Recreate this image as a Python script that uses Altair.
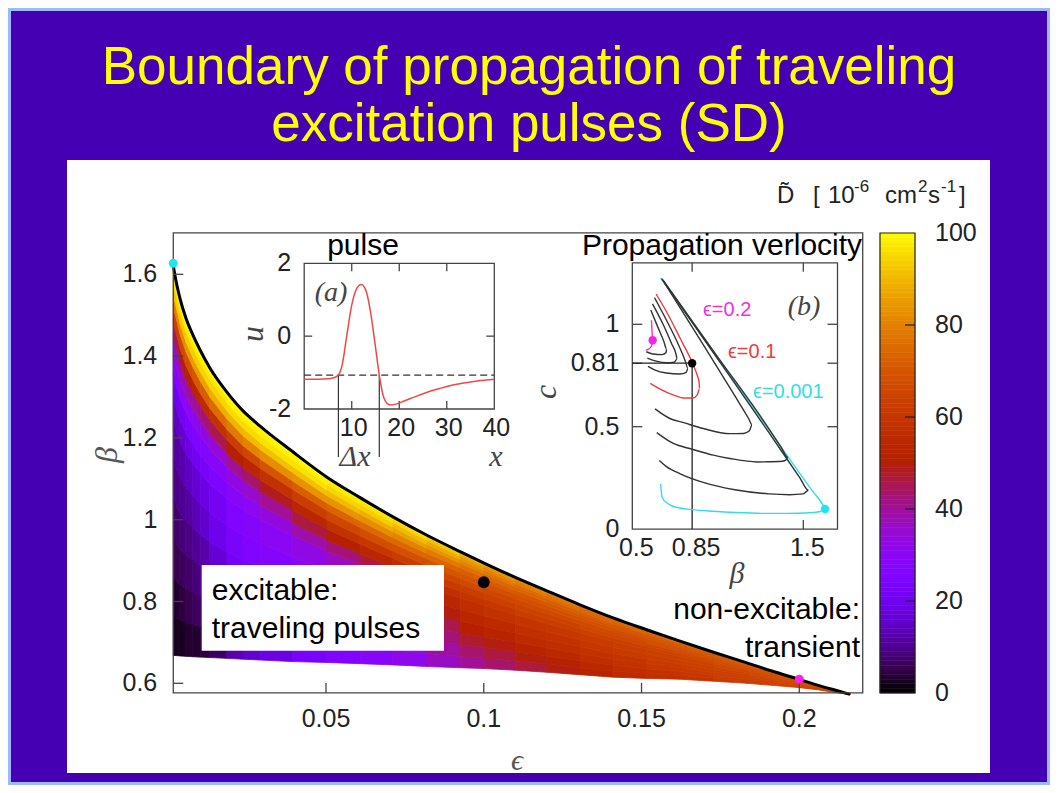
import altair as alt
import pandas as pd

W, H = 1042, 777
BG = '#4500B4'
SANS = 'Liberation Sans'
SERIF = 'Liberation Serif'
INK = '#222222'
FRAME = '#444444'

title_lines = ['Boundary of propagation of traveling', 'excitation pulses (SD)']

# ---------------- main map: boundary of propagation ----------------
eps_edges = [0.0016, 0.0021, 0.0037, 0.0056, 0.0078, 0.0101, 0.0132, 0.0186, 0.0237, 0.0291,
             0.0395, 0.0503, 0.0608, 0.0712, 0.0820, 0.0925, 0.1001, 0.1100, 0.1200, 0.1305,
             0.1410, 0.1516, 0.1622, 0.1728, 0.1834, 0.1913, 0.1993, 0.2060, 0.2129, 0.2161]
beta_upper = [1.623, 1.598, 1.542, 1.493, 1.452, 1.415, 1.371, 1.312, 1.266, 1.229,
              1.166, 1.104, 1.054, 1.007, 0.962, 0.922, 0.894, 0.859, 0.826, 0.792,
              0.760, 0.731, 0.703, 0.676, 0.650, 0.630, 0.611, 0.595, 0.580, 0.573]
beta_lower = [0.668, 0.668, 0.667, 0.666, 0.665, 0.664, 0.663, 0.661, 0.659, 0.657,
              0.653, 0.651, 0.648, 0.645, 0.641, 0.638, 0.636, 0.632, 0.627, 0.621,
              0.615, 0.612, 0.610, 0.605, 0.600, 0.595, 0.590, 0.584, 0.576, 0.573]
# relative height levels between lower and upper boundary
t_edges = [0, 0.1, 0.2, 0.3, 0.4, 0.5, 0.6, 0.66, 0.72, 0.77, 0.82, 0.86, 0.9, 0.93, 0.96, 0.98, 1.0]
# D~ values (10^-6 cm^2/s) per column, bottom -> top
D_cells = [
    [2, 3, 5, 6, 8, 10, 13, 18, 26, 33, 43, 61, 78, 91, 96, 99],
    [2, 3, 5, 7, 9, 11, 14, 19, 27, 34, 45, 63, 80, 92, 96, 99],
    [2, 4, 6, 8, 10, 12, 16, 21, 29, 37, 49, 66, 82, 92, 97, 99],
    [3, 5, 7, 9, 11, 14, 18, 23, 30, 39, 51, 68, 84, 93, 97, 99],
    [3, 6, 8, 10, 13, 16, 20, 25, 31, 40, 53, 70, 85, 93, 97, 99],
    [4, 7, 10, 12, 15, 18, 22, 26, 32, 42, 55, 72, 86, 94, 97, 99],
    [6, 10, 13, 16, 19, 21, 24, 28, 34, 45, 58, 75, 88, 94, 97, 99],
    [12, 15, 18, 21, 23, 25, 28, 32, 40, 50, 62, 78, 89, 95, 98, 99],
    [15, 18, 21, 23, 25, 27, 30, 35, 43, 53, 65, 80, 90, 95, 98, 99],
    [18, 20, 23, 25, 27, 29, 33, 40, 48, 58, 69, 82, 91, 96, 98, 99],
    [22, 24, 25, 27, 29, 32, 38, 46, 53, 62, 72, 83, 91, 96, 98, 99],
    [25, 26, 27, 29, 32, 36, 42, 50, 58, 65, 73, 83, 90, 94, 97, 98],
    [28, 29, 30, 32, 35, 40, 46, 53, 60, 67, 74, 82, 88, 93, 96, 97],
    [31, 33, 35, 38, 41, 46, 51, 57, 62, 68, 74, 80, 86, 90, 94, 96],
    [36, 39, 42, 45, 49, 53, 57, 61, 65, 69, 73, 78, 83, 87, 91, 93],
    [40, 43, 47, 50, 53, 56, 59, 62, 66, 69, 72, 76, 80, 83, 86, 89],
    [43, 46, 49, 52, 55, 58, 60, 63, 65, 68, 71, 74, 77, 80, 83, 85],
    [46, 49, 52, 55, 57, 59, 62, 64, 66, 68, 70, 73, 75, 78, 80, 82],
    [49, 51, 54, 56, 58, 60, 62, 64, 66, 68, 70, 72, 74, 76, 78, 80],
    [52, 54, 56, 58, 60, 61, 63, 65, 66, 68, 69, 71, 73, 74, 76, 78],
    [55, 56, 58, 59, 61, 62, 63, 65, 66, 67, 69, 70, 72, 73, 75, 77],
    [57, 58, 60, 61, 62, 63, 64, 65, 67, 68, 69, 70, 71, 73, 74, 76],
    [59, 60, 61, 62, 63, 64, 65, 66, 67, 68, 69, 70, 71, 72, 73, 75],
    [61, 62, 63, 63, 64, 65, 66, 67, 67, 68, 69, 70, 71, 72, 73, 74],
    [62, 63, 64, 64, 65, 66, 66, 67, 68, 68, 69, 70, 70, 71, 72, 73],
    [63, 64, 64, 65, 65, 66, 67, 67, 68, 68, 69, 69, 70, 71, 71, 72],
    [64, 65, 65, 66, 66, 67, 67, 67, 68, 68, 69, 69, 70, 70, 71, 71],
    [65, 65, 66, 66, 66, 67, 67, 67, 68, 68, 68, 69, 69, 69, 70, 70],
    [66, 66, 66, 66, 66, 67, 67, 67, 67, 67, 68, 68, 68, 68, 68, 68],
]
main_xlim = [0.0016, 0.2201]
main_ylim = [0.5765, 1.7012]
main_xticks = [0.05, 0.1, 0.15, 0.2]
main_xlabels = ['0.05', '0.1', '0.15', '0.2']
main_yticks = [0.6, 0.8, 1.0, 1.2, 1.4, 1.6]
main_ylabels = ['0.6', '0.8', '1', '1.2', '1.4', '1.6']
marker_names = ['e0.001', 'e0.1', 'e0.2']
marker_eps = [0.0016, 0.1, 0.2]
marker_beta = [1.627, 0.847, 0.610]
marker_colors = ['#1EE6F0', '#000000', '#FF1EEB']
marker_sizes = [80, 140, 80]

# colour bar
cb_levels = list(range(0, 100))
cb_ticks = [0, 20, 40, 60, 80, 100]
cb_labels = ['0', '20', '40', '60', '80', '100']
cb_inner_ticks = [20, 40, 60, 80]
pal_domain = [0, 5, 10, 15, 20, 25, 30, 35, 40, 45, 50, 55, 60, 65, 70, 75, 80, 85, 90, 95, 100]
pal_colors = ['#000000', '#39004F', '#510096', '#6301CE', '#7202F3', '#8004FF', '#8C07F3',
              '#970BCE', '#A11096', '#AB174F', '#B42000', '#BD2A00', '#C63700', '#CE4600',
              '#D55700', '#DD6C00', '#E48300', '#EB9D00', '#F2BA00', '#F9DB00', '#FFFF00']

# ---------------- inset (a): pulse profile ----------------
pulse_x = [0, 3, 5, 6, 7, 7.5, 8, 9, 10, 11, 12, 13, 13.9, 14.9, 15.8, 16.7, 17.5, 18.3,
           19.5, 21, 23, 25, 27, 29, 31, 33, 35, 37, 40]
pulse_u = [-1.18, -1.18, -1.17, -1.15, -1.09, -1.0, -0.78, 0.05, 0.85, 1.3, 1.42, 1.25, 0.71,
           -0.2, -1.07, -1.67, -1.85, -1.89, -1.86, -1.78, -1.68, -1.58, -1.49, -1.42, -1.35,
           -1.3, -1.26, -1.22, -1.18]
a_xlim = [0, 40]
a_ylim = [-2, 2]
a_tick_x = [10, 20, 30]
a_xlabel_vals = [10, 20, 30, 40]
a_xlabels = ['10', '20', '30', '40']
a_ylabel_vals = [-2, 0, 2]
a_ylabels = ['-2', '0', '2']
threshold_u = -1.07
dx_edges = [7.2, 15.8]
dx_bottom = -3.32

# ---------------- inset (b): propagation velocity ----------------
b_xlim = [0.5, 1.70]
b_ylim = [0, 1.30]
b_xlabel_vals = [0.5, 0.85, 1.5]
b_xlabels = ['0.5', '0.85', '1.5']
b_ylabel_vals = [0, 0.5, 0.81, 1.0]
b_ylabels = ['0', '0.5', '0.81', '1']
b_side_ticks = [0.5, 0.81, 1.0]
b_top_ticks = [0.85, 1.5]
b_bottom_ticks = [1.5]
b_ref_beta = 0.85
b_ref_c = 0.81

curve_cyan_b = [0.666, 1.0, 1.3, 1.55, 1.615, 1.627, 1.60, 1.539, 1.40, 1.258, 1.10, 0.974, 0.85, 0.779, 0.730, 0.701, 0.680, 0.672, 0.666]
curve_cyan_c = [1.226, 0.835, 0.484, 0.19, 0.118, 0.100, 0.086, 0.080, 0.077, 0.077, 0.081, 0.087, 0.095, 0.103, 0.114, 0.129, 0.147, 0.165, 0.22]
curve_k1_b = [0.672, 1.0, 1.3, 1.48, 1.53, 1.50, 1.42, 1.30, 1.10, 0.915, 0.78, 0.70, 0.658]
curve_k1_c = [1.223, 0.83, 0.47, 0.25, 0.19, 0.172, 0.168, 0.172, 0.192, 0.228, 0.27, 0.305, 0.335]
curve_k2_b = [0.68, 1.0, 1.25, 1.37, 1.41, 1.395, 1.36, 1.23, 1.07, 0.974, 0.85, 0.74, 0.643]
curve_k2_c = [1.215, 0.84, 0.55, 0.40, 0.35, 0.335, 0.33, 0.328, 0.345, 0.361, 0.39, 0.418, 0.471]
curve_k3_b = [0.69, 0.9, 1.1, 1.18, 1.20, 1.185, 1.15, 1.07, 0.915, 0.80, 0.72, 0.633]
curve_k3_c = [1.20, 0.92, 0.65, 0.54, 0.51, 0.48, 0.467, 0.466, 0.491, 0.52, 0.54, 0.587]
curve_red_b = [0.639, 0.701, 0.779, 0.851, 0.878, 0.891, 0.893, 0.880, 0.855, 0.80, 0.75, 0.66, 0.605]
curve_red_c = [1.148, 1.060, 0.933, 0.8125, 0.755, 0.715, 0.685, 0.655, 0.640, 0.640, 0.652, 0.685, 0.712]
curve_k4_b = [0.63, 0.70, 0.77, 0.81, 0.825, 0.815, 0.78, 0.70, 0.63, 0.592]
curve_k4_c = [1.13, 1.02, 0.90, 0.82, 0.785, 0.765, 0.757, 0.762, 0.778, 0.795]
curve_k5_b = [0.618, 0.68, 0.73, 0.757, 0.762, 0.745, 0.70, 0.64, 0.588]
curve_k5_c = [1.10, 1.00, 0.905, 0.85, 0.83, 0.815, 0.812, 0.82, 0.835]
curve_k6_b = [0.608, 0.65, 0.685, 0.70, 0.698, 0.675, 0.62, 0.582]
curve_k6_c = [1.07, 0.985, 0.915, 0.88, 0.862, 0.852, 0.855, 0.866]
curve_mag_b = [0.612, 0.615, 0.619, 0.612, 0.595, 0.578]
curve_mag_c = [1.02, 0.97, 0.922, 0.893, 0.879, 0.874]
b_markers_b = [1.627, 0.85, 0.619]
b_markers_c = [0.098, 0.81, 0.922]
eps_curve_labels = ['ϵ=0.2', 'ϵ=0.1', 'ϵ=0.001']

# ---------------- scale set-up (pixel anchors of each panel) ----------------
def domain_from(v0, p0, v1, p1, size):
    k = (p1 - p0) / (v1 - v0)
    a = v0 + (0 - p0) / k
    b = v0 + (size - p0) / k
    return sorted([a, b])

# anchors are in chart coordinates (page minus the 8px margin)
MAIN_XD = domain_from(0.05, 318.0, 0.2, 791.3, W)
MAIN_YD = domain_from(1.6, 266.3, 0.6, 675.3, H)
A_XD = domain_from(0, 296.2, 40, 486.3, W)
A_YD = domain_from(2, 255.3, -2, 401.0, H)
B_XD = domain_from(0.5, 624.3, 1.5, 795.3, W)
B_YD = domain_from(0, 521.1, 1, 316.3, H)
CB_YD = domain_from(0, 685.0, 100, 225.0, H)


def sc(d):
    return alt.Scale(domain=d, nice=False, zero=False)


def X(f, d):
    return alt.X(f, type='quantitative', scale=sc(d), axis=None)


def Y(f, d):
    return alt.Y(f, type='quantitative', scale=sc(d), axis=None)


one = pd.DataFrame({'k': [0]})


def label(text, x, y, size, color=INK, font=SANS, align='center', baseline='alphabetic',
          style='normal', angle=0):
    return alt.Chart(one).mark_text(text=text, fontSize=size, color=color, font=font,
                                    align=align, baseline=baseline, fontStyle=style,
                                    angle=angle).encode(x=alt.value(x), y=alt.value(y))


layers = []

# slide background pieces
layers.append(alt.Chart(one).mark_rect(color='white').encode(
    x=alt.value(59), x2=alt.value(982), y=alt.value(152), y2=alt.value(765)))
layers.append(alt.Chart(one).mark_rect(filled=False, color='#9CB8FF', strokeWidth=3).encode(
    x=alt.value(1.5), x2=alt.value(1040.5), y=alt.value(1.5), y2=alt.value(775.5)))
layers.append(label(title_lines[0], 521, 76, 53, color='#FFFF00'))
layers.append(label(title_lines[1], 521, 133, 53, color='#FFFF00'))

# heat map cells
heat_rows = []
for i in range(len(eps_edges) - 1):
    for j in range(len(t_edges) - 1):
        for k in (i, i + 1):
            lo, hi = beta_lower[k], beta_upper[k]
            heat_rows.append({'cell': f'{i}-{j}', 'eps': eps_edges[k],
                              'b0': lo + t_edges[j] * (hi - lo),
                              'b1': lo + t_edges[j + 1] * (hi - lo),
                              'D': D_cells[i][j]})
heat_df = pd.DataFrame(heat_rows)
cscale = alt.Scale(domain=pal_domain, range=pal_colors, interpolate='rgb')
layers.append(alt.Chart(heat_df).mark_area(opacity=1, strokeWidth=0.8, interpolate='linear').encode(
    x=X('eps', MAIN_XD), y=Y('b0', MAIN_YD), y2=alt.Y2('b1'),
    color=alt.Color('D:Q', scale=cscale, legend=None),
    stroke=alt.Stroke('D:Q', scale=cscale, legend=None),
    detail='cell:N'))

# boundary curve
curve_df = pd.DataFrame({'eps': eps_edges, 'beta': beta_upper})
layers.append(alt.Chart(curve_df).mark_line(color='black', strokeWidth=3, interpolate='monotone').encode(
    x=X('eps', MAIN_XD), y=Y('beta', MAIN_YD)))

# main frame, ticks, labels
frame_df = pd.DataFrame({'x0': [main_xlim[0]], 'x1': [main_xlim[1]], 'y0': [main_ylim[0]], 'y1': [main_ylim[1]]})
layers.append(alt.Chart(frame_df).mark_rect(filled=False, color=FRAME, strokeWidth=1.3).encode(
    x=X('x0', MAIN_XD), x2='x1', y=Y('y0', MAIN_YD), y2='y1'))
yt_df = pd.DataFrame({'v': main_yticks, 'lab': main_ylabels, 'edge': main_xlim[0]})
xt_df = pd.DataFrame({'v': main_xticks, 'lab': main_xlabels, 'edge': main_ylim[0]})
layers.append(alt.Chart(yt_df).mark_rule(color=FRAME, strokeWidth=1.3, x2Offset=10).encode(
    x=X('edge', MAIN_XD), x2='edge', y=Y('v', MAIN_YD), y2='v'))
layers.append(alt.Chart(xt_df).mark_rule(color=FRAME, strokeWidth=1.3, y2Offset=-10).encode(
    x=X('v', MAIN_XD), x2='v', y=Y('edge', MAIN_YD), y2='edge'))
layers.append(alt.Chart(yt_df).mark_text(align='right', baseline='middle', dx=-16, fontSize=25,
                                         font=SANS, color=INK).encode(
    x=X('edge', MAIN_XD), y=Y('v', MAIN_YD), text='lab:N'))
layers.append(alt.Chart(xt_df).mark_text(align='center', baseline='middle', dy=26, fontSize=25,
                                         font=SANS, color=INK).encode(
    x=X('v', MAIN_XD), y=Y('edge', MAIN_YD), text='lab:N'))
layers.append(label('ϵ', 509, 753, 30, color='#555555', font=SERIF, baseline='middle', style='italic'))
layers.append(label('β', 99, 447, 32, color='#555555', font=SERIF, baseline='middle', style='italic', angle=270))

# markers on map
mk_df = pd.DataFrame({'name': marker_names, 'eps': marker_eps, 'beta': marker_beta, 's': marker_sizes})
layers.append(alt.Chart(mk_df).mark_circle(opacity=1).encode(
    x=X('eps', MAIN_XD), y=Y('beta', MAIN_YD),
    color=alt.Color('name:N', scale=alt.Scale(domain=marker_names, range=marker_colors), legend=None),
    size=alt.Size('s:Q', scale=None, legend=None)))

# region annotations
layers.append(alt.Chart(one).mark_rect(color='white').encode(
    x=alt.value(193.7), x2=alt.value(436), y=alt.value(557), y2=alt.value(642.7)))
layers.append(label('excitable:', 203.7, 592, 30, color='black', align='left'))
layers.append(label('traveling  pulses', 203.7, 630, 30, color='black', align='left'))
layers.append(label('non-excitable:', 852, 611, 30, color='black', align='right'))
layers.append(label('transient', 852, 649, 30, color='black', align='right'))

# ---------- inset (a) ----------
layers.append(label('pulse', 355, 247, 30, color='black'))
af_df = pd.DataFrame({'x0': [a_xlim[0]], 'x1': [a_xlim[1]], 'y0': [a_ylim[0]], 'y1': [a_ylim[1]]})
layers.append(alt.Chart(af_df).mark_rect(filled=False, color=FRAME, strokeWidth=1.3).encode(
    x=X('x0', A_XD), x2='x1', y=Y('y0', A_YD), y2='y1'))
at_df = pd.DataFrame({'v': a_tick_x, 'top': a_ylim[1], 'bot': a_ylim[0]})
layers.append(alt.Chart(at_df).mark_rule(color=FRAME, strokeWidth=1.3, y2Offset=8).encode(
    x=X('v', A_XD), x2='v', y=Y('top', A_YD), y2='top'))
layers.append(alt.Chart(at_df).mark_rule(color=FRAME, strokeWidth=1.3, y2Offset=-8).encode(
    x=X('v', A_XD), x2='v', y=Y('bot', A_YD), y2='bot'))
ayt_df = pd.DataFrame({'v': [0], 'l': a_xlim[0], 'r': a_xlim[1]})
layers.append(alt.Chart(ayt_df).mark_rule(color=FRAME, strokeWidth=1.3, x2Offset=8).encode(
    x=X('l', A_XD), x2='l', y=Y('v', A_YD), y2='v'))
layers.append(alt.Chart(ayt_df).mark_rule(color=FRAME, strokeWidth=1.3, x2Offset=-8).encode(
    x=X('r', A_XD), x2='r', y=Y('v', A_YD), y2='v'))
ayl_df = pd.DataFrame({'v': a_ylabel_vals, 'lab': a_ylabels, 'edge': a_xlim[0]})
layers.append(alt.Chart(ayl_df).mark_text(align='right', baseline='middle', dx=-13, fontSize=25,
                                          font=SANS, color=INK).encode(
    x=X('edge', A_XD), y=Y('v', A_YD), text='lab:N'))
axl_df = pd.DataFrame({'v': a_xlabel_vals, 'lab': a_xlabels, 'edge': a_ylim[0]})
layers.append(alt.Chart(axl_df).mark_text(align='center', baseline='middle', dy=19, dx=2, fontSize=25,
                                          font=SANS, color=INK).encode(
    x=X('v', A_XD), y=Y('edge', A_YD), text='lab:N'))
thr_df = pd.DataFrame({'x0': [a_xlim[0]], 'x1': [a_xlim[1]], 'u': [threshold_u]})
layers.append(alt.Chart(thr_df).mark_rule(color='#333333', strokeWidth=1.2, strokeDash=[7, 4]).encode(
    x=X('x0', A_XD), x2='x1', y=Y('u', A_YD)))
dx_df = pd.DataFrame({'x': dx_edges, 'u0': threshold_u, 'u1': dx_bottom})
layers.append(alt.Chart(dx_df).mark_rule(color='#333333', strokeWidth=1.2).encode(
    x=X('x', A_XD), y=Y('u0', A_YD), y2='u1'))
pulse_df = pd.DataFrame({'x': pulse_x, 'u': pulse_u})
layers.append(alt.Chart(pulse_df).mark_line(color='#F04848', strokeWidth=1.5, interpolate='monotone').encode(
    x=X('x', A_XD), y=Y('u', A_YD)))
layers.append(label('(a)', 323, 285, 28, color='#444444', font=SERIF, baseline='middle', style='italic'))
layers.append(label('u', 245, 326, 32, color='#444444', font=SERIF, baseline='middle', style='italic', angle=270))
layers.append(label('Δx', 347, 449, 30, color='#444444', font=SERIF, baseline='middle', style='italic'))
layers.append(label('x', 488, 449, 30, color='#444444', font=SERIF, baseline='middle', style='italic'))

# ---------- inset (b) ----------
layers.append(label('Propagation  verlocity', 714, 247, 30, color='black'))
bf_df = pd.DataFrame({'x0': [b_xlim[0]], 'x1': [b_xlim[1]], 'y0': [b_ylim[0]], 'y1': [b_ylim[1]]})
layers.append(alt.Chart(bf_df).mark_rect(filled=False, color=FRAME, strokeWidth=1.3).encode(
    x=X('x0', B_XD), x2='x1', y=Y('y0', B_YD), y2='y1'))
bst_df = pd.DataFrame({'v': b_side_ticks, 'l': b_xlim[0], 'r': b_xlim[1]})
layers.append(alt.Chart(bst_df).mark_rule(color=FRAME, strokeWidth=1.3, x2Offset=10).encode(
    x=X('l', B_XD), x2='l', y=Y('v', B_YD), y2='v'))
layers.append(alt.Chart(bst_df).mark_rule(color=FRAME, strokeWidth=1.3, x2Offset=-10).encode(
    x=X('r', B_XD), x2='r', y=Y('v', B_YD), y2='v'))
btt_df = pd.DataFrame({'v': b_top_ticks, 'top': b_ylim[1]})
layers.append(alt.Chart(btt_df).mark_rule(color=FRAME, strokeWidth=1.3, y2Offset=9).encode(
    x=X('v', B_XD), x2='v', y=Y('top', B_YD), y2='top'))
bbt_df = pd.DataFrame({'v': b_bottom_ticks, 'bot': b_ylim[0]})
layers.append(alt.Chart(bbt_df).mark_rule(color=FRAME, strokeWidth=1.3, y2Offset=-9).encode(
    x=X('v', B_XD), x2='v', y=Y('bot', B_YD), y2='bot'))
byl_df = pd.DataFrame({'v': b_ylabel_vals, 'lab': b_ylabels, 'edge': b_xlim[0]})
layers.append(alt.Chart(byl_df).mark_text(align='right', baseline='middle', dx=-13, fontSize=25,
                                          font=SANS, color=INK).encode(
    x=X('edge', B_XD), y=Y('v', B_YD), text='lab:N'))
bxl_df = pd.DataFrame({'v': b_xlabel_vals, 'lab': b_xlabels, 'edge': b_ylim[0]})
layers.append(alt.Chart(bxl_df).mark_text(align='center', baseline='middle', dy=19, dx=4, fontSize=25,
                                          font=SANS, color=INK).encode(
    x=X('v', B_XD), y=Y('edge', B_YD), text='lab:N'))
ref_h = pd.DataFrame({'x0': [b_xlim[0]], 'x1': [b_ref_beta], 'c': [b_ref_c]})
ref_v = pd.DataFrame({'x': [b_ref_beta], 'c0': [b_ylim[0]], 'c1': [b_ref_c]})
layers.append(alt.Chart(ref_h).mark_rule(color='#222222', strokeWidth=1.3).encode(
    x=X('x0', B_XD), x2='x1', y=Y('c', B_YD)))
layers.append(alt.Chart(ref_v).mark_rule(color='#222222', strokeWidth=1.3).encode(
    x=X('x', B_XD), y=Y('c0', B_YD), y2='c1'))

curves = [
    ('cyan', curve_cyan_b, curve_cyan_c),
    ('k1', curve_k1_b, curve_k1_c),
    ('k2', curve_k2_b, curve_k2_c),
    ('k3', curve_k3_b, curve_k3_c),
    ('red', curve_red_b, curve_red_c),
    ('k4', curve_k4_b, curve_k4_c),
    ('k5', curve_k5_b, curve_k5_c),
    ('k6', curve_k6_b, curve_k6_c),
    ('mag', curve_mag_b, curve_mag_c),
]
crow = []
for name, bb, cc in curves:
    for idx, (b_, c_) in enumerate(zip(bb, cc)):
        crow.append({'curve': name, 'i': idx, 'beta': b_, 'c': c_})
curve_b_df = pd.DataFrame(crow)
curve_names = [c[0] for c in curves]
curve_cols = ['#33DDE8', '#333333', '#333333', '#333333', '#F03C3C', '#333333', '#333333', '#333333', '#F030E0']
layers.append(alt.Chart(curve_b_df).mark_line(strokeWidth=1.4, interpolate='monotone').encode(
    x=X('beta', B_XD), y=Y('c', B_YD),
    color=alt.Color('curve:N', scale=alt.Scale(domain=curve_names, range=curve_cols), legend=None),
    detail='curve:N', order=alt.Order('i:Q')))
bm_df = pd.DataFrame({'name': marker_names, 'beta': b_markers_b, 'c': b_markers_c})
layers.append(alt.Chart(bm_df).mark_circle(opacity=1, size=70).encode(
    x=X('beta', B_XD), y=Y('c', B_YD),
    color=alt.Color('name:N', scale=alt.Scale(domain=marker_names, range=marker_colors), legend=None)))
layers.append(label(eps_curve_labels[0], 695, 302, 20, color='#F030E0', align='left', baseline='middle'))
layers.append(label(eps_curve_labels[1], 720, 344, 20, color='#F03C3C', align='left', baseline='middle'))
layers.append(label(eps_curve_labels[2], 745, 384, 20, color='#33DDE8', align='left', baseline='middle'))
layers.append(label('(b)', 796, 299, 28, color='#444444', font=SERIF, baseline='middle', style='italic'))
layers.append(label('c', 538, 384, 32, color='#444444', font=SERIF, baseline='middle', style='italic', angle=270))
layers.append(label('β', 729, 566, 30, color='#444444', font=SERIF, baseline='middle', style='italic'))

# ---------- colour bar ----------
cb_df = pd.DataFrame({'v': cb_levels, 'v2': [v + 1 for v in cb_levels]})
layers.append(alt.Chart(cb_df).mark_rect(strokeWidth=0.6).encode(
    x=alt.value(872), x2=alt.value(907), y=Y('v', CB_YD), y2='v2',
    color=alt.Color('v:Q', scale=cscale, legend=None),
    stroke=alt.Stroke('v:Q', scale=cscale, legend=None)))
cbf_df = pd.DataFrame({'lo': [cb_ticks[0]], 'hi': [cb_ticks[-1]]})
layers.append(alt.Chart(cbf_df).mark_rect(filled=False, color='#222222', strokeWidth=1.2).encode(
    x=alt.value(872), x2=alt.value(907), y=Y('lo', CB_YD), y2='hi'))
cbt_df = pd.DataFrame({'v': cb_inner_ticks})
layers.append(alt.Chart(cbt_df).mark_rule(color='#222222', strokeWidth=1.3).encode(
    x=alt.value(897), x2=alt.value(907), y=Y('v', CB_YD)))
cbl_df = pd.DataFrame({'v': cb_ticks, 'lab': cb_labels})
layers.append(alt.Chart(cbl_df).mark_text(align='left', baseline='middle', fontSize=25, font=SANS,
                                          color=INK).encode(
    x=alt.value(927), y=Y('v', CB_YD), text='lab:N'))
layers.append(label('D\u0303', 769, 195, 24, align='left'))
layers.append(label('[', 805, 195, 24, align='left'))
layers.append(label('10', 820, 195, 24, align='left'))
layers.append(label('-6', 846, 184, 17, align='left'))
layers.append(label('cm', 877, 195, 24, align='left'))
layers.append(label('2', 910, 184, 17, align='left'))
layers.append(label('s', 920, 195, 24, align='left'))
layers.append(label('-1', 933, 184, 17, align='left'))
layers.append(label(']', 951, 195, 24, align='left'))

chart = alt.layer(*layers).resolve_scale(
    x='independent', y='independent', color='independent', stroke='independent', size='independent'
).properties(
    width=W, height=H, background=BG, padding=0, autosize=alt.AutoSizeParams(type='none')
).configure_view(strokeWidth=0)

chart.save('out.html', embed_options={'renderer': 'svg', 'actions': False})
